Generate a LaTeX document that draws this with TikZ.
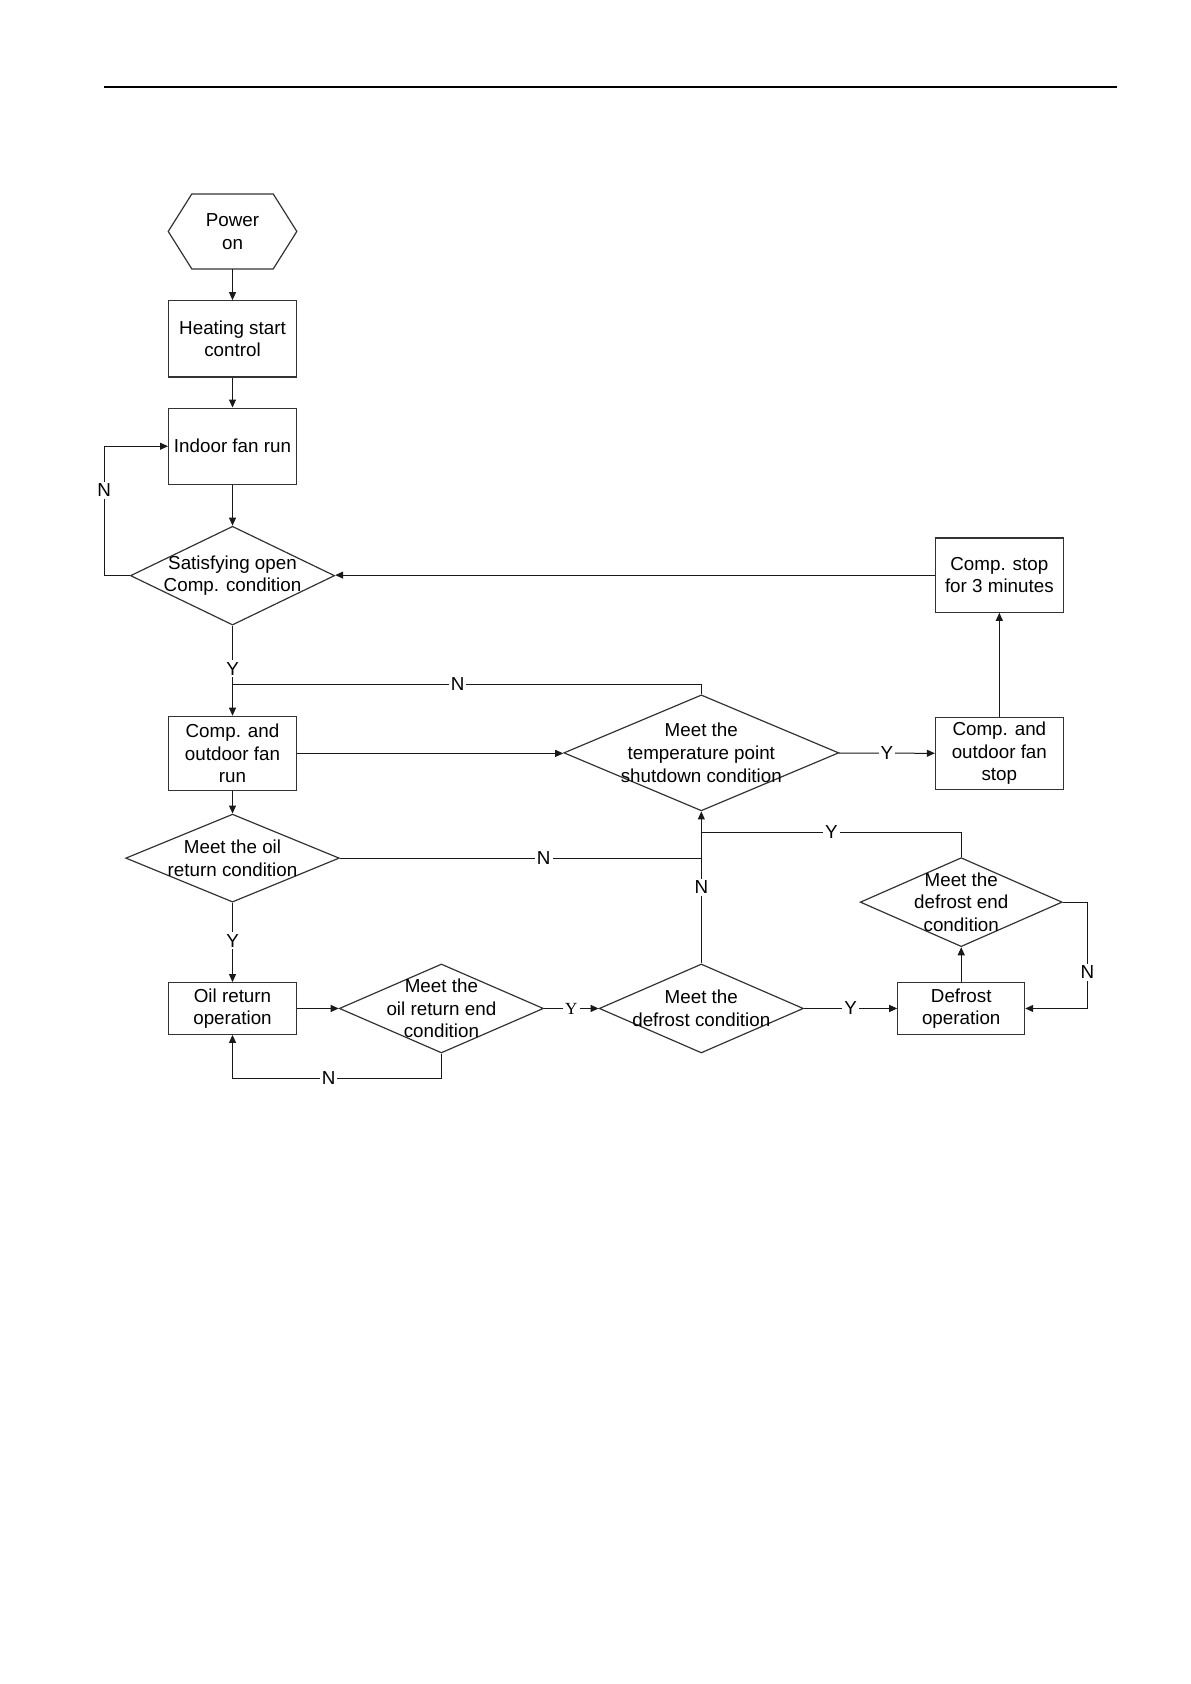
\documentclass[tikz,border=0pt]{standalone}
\usepackage{fontspec}
\setmainfont{Liberation Sans}
\usetikzlibrary{shapes,arrows.meta}
\tikzstyle{box}=[rectangle,draw=black!80,line width=0.6pt,inner sep=1pt,
  minimum width=63.9pt,align=center,font=\fontsize{9.4}{11.3}\selectfont]
\tikzstyle{dec}=[diamond,draw=black!80,line width=0.6pt,inner sep=0pt]
\tikzstyle{txt}=[align=center,inner sep=0pt,font=\fontsize{9.4}{11.3}\selectfont]
\tikzstyle{lbl}=[fill=white,inner sep=1pt,font=\fontsize{9.4}{11.3}\selectfont]
\tikzstyle{slbl}=[fill=white,inner sep=1pt,font=\fontspec{Liberation Serif}\fontsize{8.5}{9}\selectfont]
\tikzstyle{arr}=[-{Triangle[length=4pt,width=3.5pt]},line width=0.5pt,draw=black!90]
\tikzstyle{ln}=[line width=0.5pt,draw=black!90]

\begin{document}
\begin{tikzpicture}[x=0.537pt,y=-0.537pt]
    \useasboundingbox (0,0) rectangle (1108.9,1568);
    \draw[line width=0.8pt] (97,81) -- (1040,81);
    \node [style=txt,minimum width=63.9pt,minimum height=37.1pt] (pwr) at (216.5,215.5) {Power\\on};
    \draw[draw=black!80,line width=0.6pt] (pwr.west) -- ([xshift=11.8pt]pwr.north west)
        -- ([xshift=-11.8pt]pwr.north east) -- (pwr.east)
        -- ([xshift=-11.8pt]pwr.south east) -- ([xshift=11.8pt]pwr.south west) -- cycle;
    \node [style=box,minimum height=38.1pt] (heat) at (216.5,315.5) {Heating start\\control};
    \node [style=box,minimum height=38.1pt] (fan) at (216.5,415.5) {Indoor fan run};
    \node [style=dec,minimum width=102.1pt,minimum height=49.4pt,
        label={[style=txt]center:{Satisfying open\\Comp. condition}}] (sat) at (216.5,536) {};
    \node [style=box,minimum height=37.1pt] (run) at (216.5,701.5) {Comp. and\\outdoor fan\\run};
    \node [style=dec,minimum width=137.5pt,minimum height=58pt,
        label={[style=txt]center:{Meet the\\temperature point\\shutdown condition}}] (temp) at (653,701) {};
    \node [style=box,minimum height=36pt] (stop) at (930.5,701.5) {Comp. and\\outdoor fan\\stop};
    \node [style=box,minimum height=37.1pt] (cstop) at (930.5,535.5) {Comp. stop\\for 3 minutes};
    \node [style=dec,minimum width=106.8pt,minimum height=44pt,
        label={[style=txt]center:{Meet the oil\\return condition}}] (oil) at (216.5,799) {};
    \node [style=box,minimum height=25.8pt] (oilop) at (216.5,939) {Oil return\\operation};
    \node [style=dec,minimum width=102.1pt,minimum height=44.5pt,
        label={[style=txt]center:{Meet the\\oil return end\\condition}}] (oend) at (411,939) {};
    \node [style=dec,minimum width=102.1pt,minimum height=44.5pt,
        label={[style=txt]center:{Meet the\\defrost condition}}] (dfc) at (653,939) {};
    \node [style=box,minimum width=63.4pt,minimum height=25.8pt] (dop) at (895,939) {Defrost\\operation};
    \node [style=dec,minimum width=101pt,minimum height=44.5pt,
        label={[style=txt]center:{Meet the\\defrost end\\condition}}] (dend) at (895,840) {};
    \coordinate (jn) at (216.5,637);
    \coordinate (jd) at (653,775);
    \draw [style=arr] (pwr) to (heat);
    \draw [style=arr] (heat) to (fan);
    \draw [style=arr] (fan) to (sat);
    \draw [style=arr] (sat.west) -- ++(-24,0) |- node[style=lbl,pos=0.33] {N} (fan.west);
    \draw [style=arr] (sat) -- node[style=lbl,pos=0.48] {Y} (run);
    \draw [style=ln] (temp.north) |- node[style=lbl,pos=0.76] {N} (jn);
    \draw [style=arr] (run.east) -- (run.east -| temp.west);
    \draw [style=arr] (temp) -- node[style=lbl] {Y} (stop);
    \draw [style=arr] (stop) to (cstop);
    \draw [style=arr] (cstop.west) -- (cstop.west -| sat.east);
    \draw [style=arr] (run) to (oil);
    \draw [style=ln] (oil.east) -- node[style=lbl,pos=0.564] {N} (oil.east -| temp.south);
    \draw [style=arr] (oil) -- node[style=lbl,pos=0.48] {Y} (oilop);
    \draw [style=arr] (oilop) to (oend);
    \draw [style=arr] (oend) -- node[style=slbl] {Y} (dfc);
    \draw [style=arr] (oend.south) -- ++(0,23) -| node[style=lbl,pos=0.27] {N} (oilop.south);
    \draw [style=arr] (dfc) -- node[style=lbl] {N} (temp);
    \draw [style=arr] (dfc) -- node[style=lbl] {Y} (dop);
    \draw [style=arr] (dop) to (dend);
    \draw [style=ln] (dend.north) |- node[style=lbl,pos=0.75] {Y} (jd);
    \draw [style=arr] (dend.east) -- ++(23,0) |- node[style=lbl,pos=0.33] {N} (dop.east);
\end{tikzpicture}
\end{document}
